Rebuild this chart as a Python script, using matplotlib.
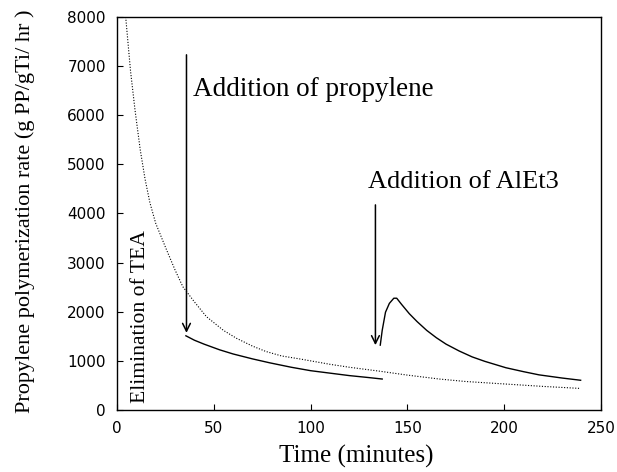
import matplotlib
matplotlib.use("Agg")
import matplotlib.pyplot as plt

# dotted curve: continuous TEA run (time in minutes, rate g PP/gTi/hr)
ref_time = [4.5, 7, 9.3, 12, 14.5, 17, 20, 25.6, 30, 34, 40, 46.2, 55, 61.7, 70, 77, 85,
            94.3, 110, 120, 135.6, 150, 166.5, 180, 200, 220, 238.7]
ref_rate = [8000, 6900, 6110, 5300, 4700, 4220, 3800, 3260, 2850, 2510, 2200, 1900, 1620, 1460, 1300, 1190, 1100,
            1040, 930, 870, 790, 710, 630, 580, 530, 480, 440]

# solid segment after TEA elimination / propylene addition
seg1_time = [35.6, 40, 45, 53, 60, 70, 78.9, 90, 100, 110, 120, 130, 137]
seg1_rate = [1510, 1420, 1340, 1225, 1140, 1040, 960, 870, 800, 750, 700, 660, 630]

# solid segment after AlEt3 addition
seg2_time = [136.0, 137.0, 138.7, 140.7, 143.0, 144.5, 147, 151, 155, 160, 165, 170, 176.8,
             183.5, 190, 200.9, 210, 218, 230, 239.5]
seg2_rate = [1320, 1620, 1990, 2170, 2275, 2275, 2150, 1960, 1800, 1620, 1470, 1340, 1200,
             1080, 990, 860, 780, 715, 650, 605]

x_ticks = [0, 50, 100, 150, 200, 250]
y_ticks = [0, 1000, 2000, 3000, 4000, 5000, 6000, 7000, 8000]

serif = "Liberation Serif"
sans = "DejaVu Sans"

fig = plt.figure(figsize=(6.17, 4.72), dpi=100)
ax = fig.add_axes([0.1896, 0.1314, 0.7844, 0.8326])

ax.plot(ref_time, ref_rate, color="black", linestyle=(0, (1, 1.5)), linewidth=0.8)
ax.plot(seg1_time, seg1_rate, color="black", linewidth=1.0)
ax.plot(seg2_time, seg2_rate, color="black", linewidth=1.0)

arrow = dict(arrowstyle="->", color="black", lw=1.1, mutation_scale=14, shrinkA=0, shrinkB=0)
ax.annotate("", xy=(35.9, 1570), xytext=(35.9, 7230), arrowprops=arrow)
ax.annotate("", xy=(133.5, 1320), xytext=(133.5, 4175), arrowprops=arrow)

ax.text(39.3, 6530, "Addition of propylene", family=serif, fontsize=19.5, va="center", ha="left")
ax.text(129.6, 4640, "Addition of AlEt3", family=serif, fontsize=19, va="center", ha="left")
ax.text(12, 150, "Elimination of TEA", family=serif, fontsize=15.6, rotation=90, va="bottom", ha="center")

ax.set_xlim(0, 250)
ax.set_ylim(0, 8000)
ax.set_xticks(x_ticks)
ax.set_yticks(y_ticks)
ax.tick_params(direction="in", length=4, width=0.8, labelsize=11, pad=8)
for lab in ax.get_xticklabels() + ax.get_yticklabels():
    lab.set_family(sans)

ax.set_xlabel("Time (minutes)", family=serif, fontsize=18)
ax.set_ylabel("Propylene polymerization rate (g PP/gTi/ hr )", family=serif, fontsize=16)
ax.xaxis.set_label_coords(0.494, -0.09)
ax.yaxis.set_label_coords(-0.17, 0.505)

for s in ax.spines.values():
    s.set_linewidth(1.0)

fig.savefig("out.png", dpi=100)
